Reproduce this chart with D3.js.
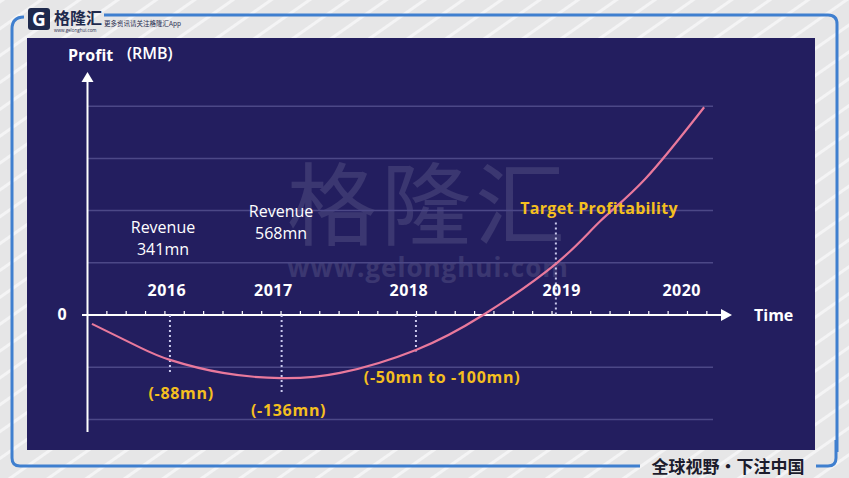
<!DOCTYPE html>
<html>
<head>
<meta charset="utf-8">
<script src="https://cdn.jsdelivr.net/npm/d3@7"></script>
<style>
  body { margin: 0; background: #e9e9ea; }
  text { font-family: "Open Sans", "Noto Sans", sans-serif; }
</style>
</head>
<body>
<script>
// chart size
var w = 849;
var h = 478;

// curve: time units along the axis (one unit = one minor tick), profit in grid steps
var curveTime   = [0.23, 2.7, 4.26, 7.0, 10.0, 13.05, 16.97, 20.44, 24.26, 26.5, 28.8, 31.86];
var curveProfit = [-0.17, -0.62, -0.86, -1.11, -1.21, -1.11, -0.67, 0, 1.0, 1.8, 2.6, 3.98];

// year labels on the time axis
var years     = ["2016", "2017", "2018", "2019", "2020"];
var yearTime  = [4.1, 9.6, 16.6, 24.5, 30.7];

// dotted markers: time, start and end (grid steps)
var markTime  = [4.26, 10.03, 16.97, 24.2];
var markFrom  = [0, 0, 0, 1.77];
var markTo    = [-1.15, -1.5, -0.7, 0];

// loss labels under the curve
var lossLabels = ["(-88mn)", "(-136mn)", "(-50mn to -100mn)"];
var lossTime   = [4.84, 10.39, 18.32];
var lossLevel  = [-1.61, -1.93, -1.3];

// revenue notes
var revYear   = ["341mn", "568mn"];
var revTime   = [3.9, 10.0];
var revLevel  = [1.57, 1.88];

var gridLevels = [-2, -1, 1, 2, 3, 4];
var minorTicks = d3.range(1, 33);

var svg = d3.select("body").append("svg")
    .attr("width", w)
    .attr("height", h);

// light striped background
var defs = svg.append("defs");
var pat = defs.append("pattern")
    .attr("id", "stripes")
    .attr("width", 22).attr("height", 22)
    .attr("patternUnits", "userSpaceOnUse")
    .attr("patternTransform", "rotate(-35)");
pat.append("rect").attr("width", 22).attr("height", 22).attr("fill", "#e6e6e7");
pat.append("rect").attr("width", 22).attr("height", 3).attr("fill", "#f4f4f5");
svg.append("rect").attr("width", w).attr("height", h).attr("fill", "url(#stripes)");

// blue frame
var frame = svg.append("g").attr("fill", "none").attr("stroke", "#3f7fcf").attr("stroke-width", 3);
frame.append("path").attr("d", "M104,15 H828 Q837,15 837,24 V452");
frame.append("path").attr("d", "M24,17 Q12,17 12,29 V458 Q12,466 20,466 H640");
frame.append("path").attr("d", "M816,466 H828 Q836,466 836,458 V440");

// navy panel
svg.append("rect")
    .attr("x", 27).attr("y", 38)
    .attr("width", 788).attr("height", 412)
    .attr("fill", "#231e5f");

// header logo
var logo = svg.append("g");
logo.append("rect").attr("x", 28).attr("y", 8).attr("width", 22).attr("height", 22)
    .attr("rx", 3).attr("fill", "#1f2a4d");
logo.append("text").attr("x", 39).attr("y", 26).attr("text-anchor", "middle")
    .attr("fill", "#ffffff").attr("font-size", 19).attr("font-weight", "bold").text("G");
logo.append("text").attr("x", 54).attr("y", 24)
    .style("font-family", "'Noto Sans CJK SC'")
    .attr("fill", "#1f2a4d").attr("font-size", 16).attr("font-weight", "bold").text("格隆汇");
logo.append("text").attr("x", 54).attr("y", 32)
    .attr("fill", "#1f2a4d").attr("font-size", 4.5).text("www.gelonghui.com");
logo.append("text").attr("x", 104).attr("y", 26)
    .style("font-family", "'Noto Sans CJK SC'")
    .attr("fill", "#1f2a4d").attr("font-size", 6.5).text("更多资讯请关注格隆汇App");

// footer slogan
svg.append("text").attr("x", 728).attr("y", 473).attr("text-anchor", "middle")
    .style("font-family", "'Noto Sans CJK SC'")
    .attr("fill", "#1c1c2c").attr("font-size", 17).attr("font-weight", "bold")
    .text("全球视野・下注中国");

// scales
var x = d3.scaleLinear().domain([0, 33.3]).range([87.5, 732]);
var y = d3.scaleLinear().domain([0, 4]).range([315, 106.2]);

// watermark
var wm = svg.append("g").attr("fill", "#ffffff").attr("opacity", 0.11);
wm.append("text").attr("x", 428).attr("y", 238).attr("text-anchor", "middle")
    .style("font-family", "'Noto Sans CJK SC'")
    .attr("font-size", 90).attr("letter-spacing", 4).text("格隆汇");
wm.append("text").attr("x", 428).attr("y", 277).attr("text-anchor", "middle")
    .attr("font-size", 26).attr("font-weight", "bold").attr("letter-spacing", 1).text("www.gelonghui.com");

// grid lines
svg.append("g").selectAll("line")
    .data(gridLevels)
    .enter().append("line")
    .attr("x1", x(0)).attr("x2", 713)
    .attr("y1", function(d) { return y(d); })
    .attr("y2", function(d) { return y(d); })
    .attr("stroke", "#4c4887").attr("stroke-width", 1.5);

// axes
svg.append("line").attr("x1", x(0)).attr("x2", x(0))
    .attr("y1", 432).attr("y2", 80)
    .attr("stroke", "#ffffff").attr("stroke-width", 2);
svg.append("path").attr("d", "M" + x(0) + ",72 l-6,10 h12 z").attr("fill", "#ffffff");

svg.append("line").attr("x1", 82).attr("x2", x(33.3) - 8)
    .attr("y1", y(0)).attr("y2", y(0))
    .attr("stroke", "#ffffff").attr("stroke-width", 2);
svg.append("path").attr("d", "M" + x(33.3) + "," + y(0) + " l-11,-6 v12 z").attr("fill", "#ffffff");

svg.append("g").selectAll("line")
    .data(minorTicks)
    .enter().append("line")
    .attr("x1", function(d) { return x(d); })
    .attr("x2", function(d) { return x(d); })
    .attr("y1", y(0)).attr("y2", y(0) - 4)
    .attr("stroke", "#ffffff").attr("stroke-width", 1.2);

// dotted markers
svg.append("g").selectAll("line")
    .data(markTime)
    .enter().append("line")
    .attr("x1", function(d) { return x(d); })
    .attr("x2", function(d) { return x(d); })
    .attr("y1", function(d, i) { return y(markFrom[i]); })
    .attr("y2", function(d, i) { return y(markTo[i]); })
    .attr("stroke", "#c9c8ec").attr("stroke-width", 2)
    .attr("stroke-dasharray", "2,3");

// profit curve
var line = d3.line()
    .x(function(d, i) { return x(curveTime[i]); })
    .y(function(d) { return y(d); })
    .curve(d3.curveNatural);

svg.append("path")
    .datum(curveProfit)
    .attr("d", line)
    .attr("fill", "none")
    .attr("stroke", "#e9799c")
    .attr("stroke-width", 2.2);

// axis titles
svg.append("text").attr("x", 68).attr("y", 61)
    .attr("fill", "#ffffff").attr("font-size", 16).attr("font-weight", "bold").text("Profit");
svg.append("text").attr("x", 127).attr("y", 59)
    .attr("fill", "#ffffff").attr("font-size", 16).attr("font-weight", 600).text("(RMB)");
svg.append("text").attr("x", 62).attr("y", y(0) + 5).attr("text-anchor", "middle")
    .attr("fill", "#ffffff").attr("font-size", 16).attr("font-weight", "bold").text("0");
svg.append("text").attr("x", 754).attr("y", y(0) + 6)
    .attr("fill", "#ffffff").attr("font-size", 16).attr("font-weight", "bold").text("Time");

// year labels
svg.append("g").selectAll("text")
    .data(years)
    .enter().append("text")
    .attr("x", function(d, i) { return x(yearTime[i]); })
    .attr("y", y(0.37))
    .attr("text-anchor", "middle")
    .attr("fill", "#ffffff").attr("font-size", 16).attr("font-weight", "bold")
    .attr("letter-spacing", 0.5)
    .text(function(d) { return d; });

// revenue notes
var rev = svg.append("g").selectAll("g")
    .data(revYear)
    .enter().append("g")
    .attr("transform", function(d, i) { return "translate(" + x(revTime[i]) + "," + y(revLevel[i]) + ")"; });
rev.append("text").attr("text-anchor", "middle").attr("y", 0)
    .attr("fill", "#ffffff").attr("font-size", 16).text("Revenue");
rev.append("text").attr("text-anchor", "middle").attr("y", 22)
    .attr("fill", "#ffffff").attr("font-size", 16).text(function(d) { return d; });

// loss labels
svg.append("g").selectAll("text")
    .data(lossLabels)
    .enter().append("text")
    .attr("x", function(d, i) { return x(lossTime[i]); })
    .attr("y", function(d, i) { return y(lossLevel[i]); })
    .attr("text-anchor", "middle")
    .attr("fill", "#f4bf1f").attr("font-size", 16).attr("font-weight", "bold")
    .attr("letter-spacing", 0.7)
    .text(function(d) { return d; });

svg.append("text").attr("x", x(26.43)).attr("y", y(1.93))
    .attr("text-anchor", "middle")
    .attr("fill", "#f4bf1f").attr("font-size", 16).attr("font-weight", "bold")
    .attr("letter-spacing", 0.3)
    .text("Target Profitability");
</script>
</body>
</html>
